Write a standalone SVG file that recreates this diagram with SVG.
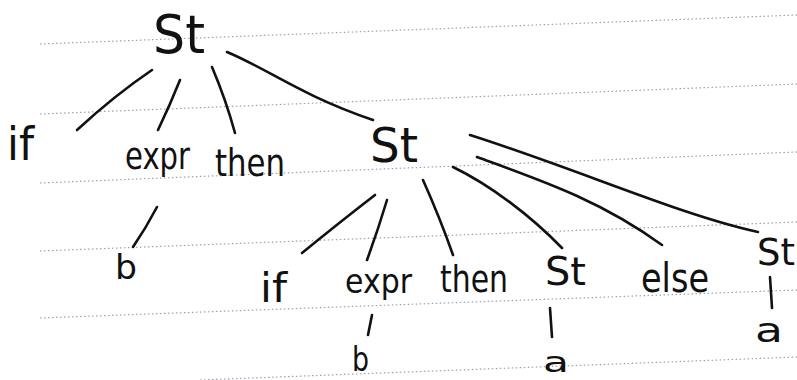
<svg xmlns="http://www.w3.org/2000/svg" width="797" height="380" viewBox="0 0 797 380">
<style>
.rule{stroke:#9aa0b4;stroke-width:1.2;stroke-dasharray:1.5 2.5;fill:none}
.e{stroke:#111;stroke-width:2.6;fill:none;stroke-linecap:round}
text{font-family:"DejaVu Sans","Liberation Sans",sans-serif;fill:#111}
</style>
<rect width="797" height="380" fill="#fff"/>
<g id="paper-rules">
<line class="rule" x1="40" y1="44" x2="797" y2="15"/>
<line class="rule" x1="40" y1="114" x2="797" y2="84"/>
<line class="rule" x1="40" y1="183" x2="797" y2="152"/>
<line class="rule" x1="40" y1="251" x2="797" y2="222"/>
<line class="rule" x1="40" y1="318" x2="797" y2="290"/>
<line class="rule" x1="200" y1="380" x2="797" y2="357"/>
</g>
<g id="connectors">
<path class="e" d="M152,70 Q115,95 77,130"/>
<path class="e" d="M180,80 Q170,105 158,130"/>
<path class="e" d="M212,67 Q226,100 235,133"/>
<path class="e" d="M227,52 C270,70 300,95 373,120"/>
<path class="e" d="M157,207 Q146,228 133,247"/>
<path class="e" d="M375,195 Q340,222 302,253"/>
<path class="e" d="M387,200 Q378,230 367,260"/>
<path class="e" d="M423,180 Q440,218 453,255"/>
<path class="e" d="M453,167 C490,185 530,215 562,248"/>
<path class="e" d="M477,157 C540,180 600,200 662,245"/>
<path class="e" d="M470,135 C580,170 680,215 758,232"/>
<path class="e" d="M372,315 Q370,325 368,335"/>
<path class="e" d="M550,308 L552,337"/>
<path class="e" d="M770,277 L772,308"/>
</g>
<g id="n-root"><text x="153" y="53" font-size="54" textLength="52" lengthAdjust="spacingAndGlyphs">St</text></g>
<g id="n-if1"><text x="7" y="160" font-size="46" textLength="27" lengthAdjust="spacingAndGlyphs">if</text></g>
<g id="n-expr1"><text x="125" y="169" font-size="38" textLength="65" lengthAdjust="spacingAndGlyphs">expr</text></g>
<g id="n-then1"><text x="215" y="176" font-size="37" textLength="70" lengthAdjust="spacingAndGlyphs">then</text></g>
<g id="n-st2"><text x="370" y="162" font-size="48" textLength="48" lengthAdjust="spacingAndGlyphs">St</text></g>
<g id="n-b1"><text x="115" y="279" font-size="33" textLength="22" lengthAdjust="spacingAndGlyphs">b</text></g>
<g id="n-if2"><text x="260" y="302" font-size="40" textLength="27" lengthAdjust="spacingAndGlyphs">if</text></g>
<g id="n-expr2"><text x="345" y="293" font-size="34" textLength="67" lengthAdjust="spacingAndGlyphs">expr</text></g>
<g id="n-then2"><text x="440" y="292" font-size="38" textLength="68" lengthAdjust="spacingAndGlyphs">then</text></g>
<g id="n-st3"><text x="545" y="285" font-size="39" textLength="41" lengthAdjust="spacingAndGlyphs">St</text></g>
<g id="n-else"><text x="641" y="292" font-size="40" textLength="68" lengthAdjust="spacingAndGlyphs">else</text></g>
<g id="n-st4"><text x="757" y="265" font-size="38" textLength="38" lengthAdjust="spacingAndGlyphs">St</text></g>
<g id="n-b2"><text x="352" y="371" font-size="33" textLength="17" lengthAdjust="spacingAndGlyphs">b</text></g>
<g id="n-a1"><text x="543" y="372" font-size="28" textLength="26" lengthAdjust="spacingAndGlyphs">a</text></g>
<g id="n-a2"><text x="755" y="342" font-size="34" textLength="28" lengthAdjust="spacingAndGlyphs">a</text></g>
</svg>
